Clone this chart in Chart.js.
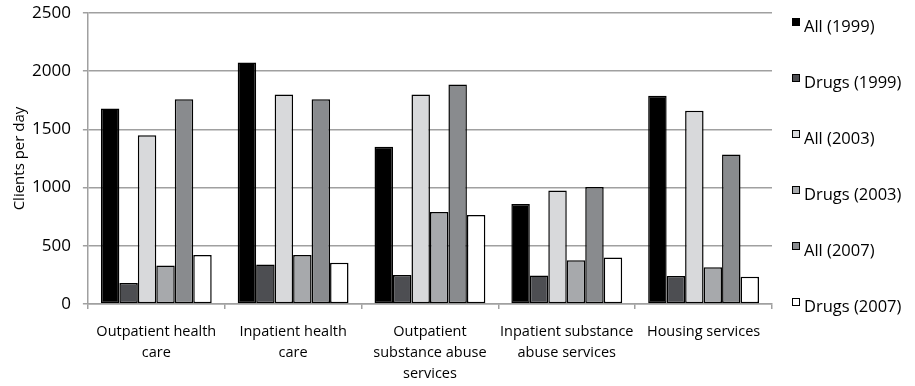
<!DOCTYPE html>
<html>
<head>
<meta charset="utf-8">
<script src="https://cdn.jsdelivr.net/npm/chart.js@4/dist/chart.umd.min.js"></script>
<style>
  html, body { margin: 0; padding: 0; background: #fff; }
  #wrap { width: 915px; height: 386px; }
</style>
</head>
<body>
<div id="wrap"><canvas id="bar-chart" width="915" height="386"></canvas></div>
<script>
const categories = [
    ['Outpatient health', 'care'],
    ['Inpatient health', 'care'],
    ['Outpatient', 'substance abuse', 'services'],
    ['Inpatient substance', 'abuse services'],
    ['Housing services']
];
const seriesNames = ['All (1999)', 'Drugs (1999)', 'All (2003)', 'Drugs (2003)', 'All (2007)', 'Drugs (2007)'];
const all1999 = [1680, 2075, 1350, 860, 1790];
const drugs1999 = [180, 340, 250, 245, 240];
const all2003 = [1450, 1800, 1800, 975, 1660];
const drugs2003 = [330, 420, 790, 375, 315];
const all2007 = [1760, 1760, 1885, 1005, 1285];
const drugs2007 = [420, 355, 765, 400, 235];
const yTicks = [0, 500, 1000, 1500, 2000, 2500];

const fills = ['#000000', '#4d4e52', '#d8d9db', '#a7a9ac', '#898b8e', '#ffffff'];
const fontFamily = "'Open Sans', 'Noto Sans', sans-serif";
const gridColor = '#a0a0a0';

const seriesValues = [all1999, drugs1999, all2003, drugs2003, all2007, drugs2007];

// legend stacked down the right side, small square sitting at the top of the text
const sideLegend = {
    id: 'sideLegend',
    afterDraw(chart) {
        const ctx = chart.ctx;
        ctx.save();
        ctx.font = '16.5px ' + fontFamily;
        ctx.textBaseline = 'middle';
        chart.data.datasets.forEach((ds, i) => {
            const y = 27 + i * 56;
            ctx.fillStyle = ds.backgroundColor;
            ctx.fillRect(792.5, y - 8.5, 7, 7);
            ctx.strokeStyle = '#000';
            ctx.lineWidth = 1;
            ctx.strokeRect(792.5, y - 8.5, 7, 7);
            ctx.fillStyle = '#000';
            ctx.fillText(ds.label, 804, y);
        });
        ctx.restore();
    }
};

const config = {
    type: 'bar',
    data: {
        labels: categories,
        datasets: seriesNames.map((name, i) => ({
            label: name,
            data: seriesValues[i],
            backgroundColor: fills[i],
            borderColor: '#000',
            borderWidth: 1.5,
            borderSkipped: false,
            categoryPercentage: 0.81,
            barPercentage: 1.0,
            inflateAmount: 0
        }))
    },
    options: {
        responsive: false,
        animation: false,
        layout: {
            padding: {left: 11, right: 143, top: 13, bottom: 2}
        },
        plugins: {
            legend: {display: false},
            tooltip: {enabled: false}
        },
        scales: {
            x: {
                afterFit(scale) {
                    scale.height = 80;
                },
                grid: {
                    offset: true,
                    drawOnChartArea: false,
                    drawTicks: true,
                    tickLength: 5,
                    color: gridColor,
                    lineWidth: 1.5
                },
                border: {color: gridColor, width: 1.5},
                ticks: {
                    color: '#000',
                    maxRotation: 0,
                    autoSkip: false,
                    padding: 12,
                    font: {family: fontFamily, size: 14.5, lineHeight: 1.45}
                }
            },
            y: {
                min: 0,
                max: 2500,
                afterBuildTicks(axis) {
                    axis.ticks = yTicks.map(v => ({value: v}));
                },
                afterFit(axis) {
                    // the 2500 label fits in the top margin, no extra room needed
                    axis.paddingTop = 0;
                },
                grid: {
                    color: gridColor,
                    lineWidth: 1.5,
                    tickLength: 5
                },
                border: {color: gridColor, width: 1.5},
                ticks: {
                    color: '#000',
                    padding: 12,
                    font: {family: fontFamily, size: 17},
                    callback: v => String(v)
                },
                title: {
                    display: true,
                    text: 'Clients per day',
                    color: '#000',
                    padding: {top: 0, bottom: -9},
                    font: {family: fontFamily, size: 15}
                }
            }
        }
    },
    plugins: [sideLegend]
};

const ctx = document.getElementById('bar-chart').getContext('2d');
window.myBar = new Chart(ctx, config);
</script>
</body>
</html>
